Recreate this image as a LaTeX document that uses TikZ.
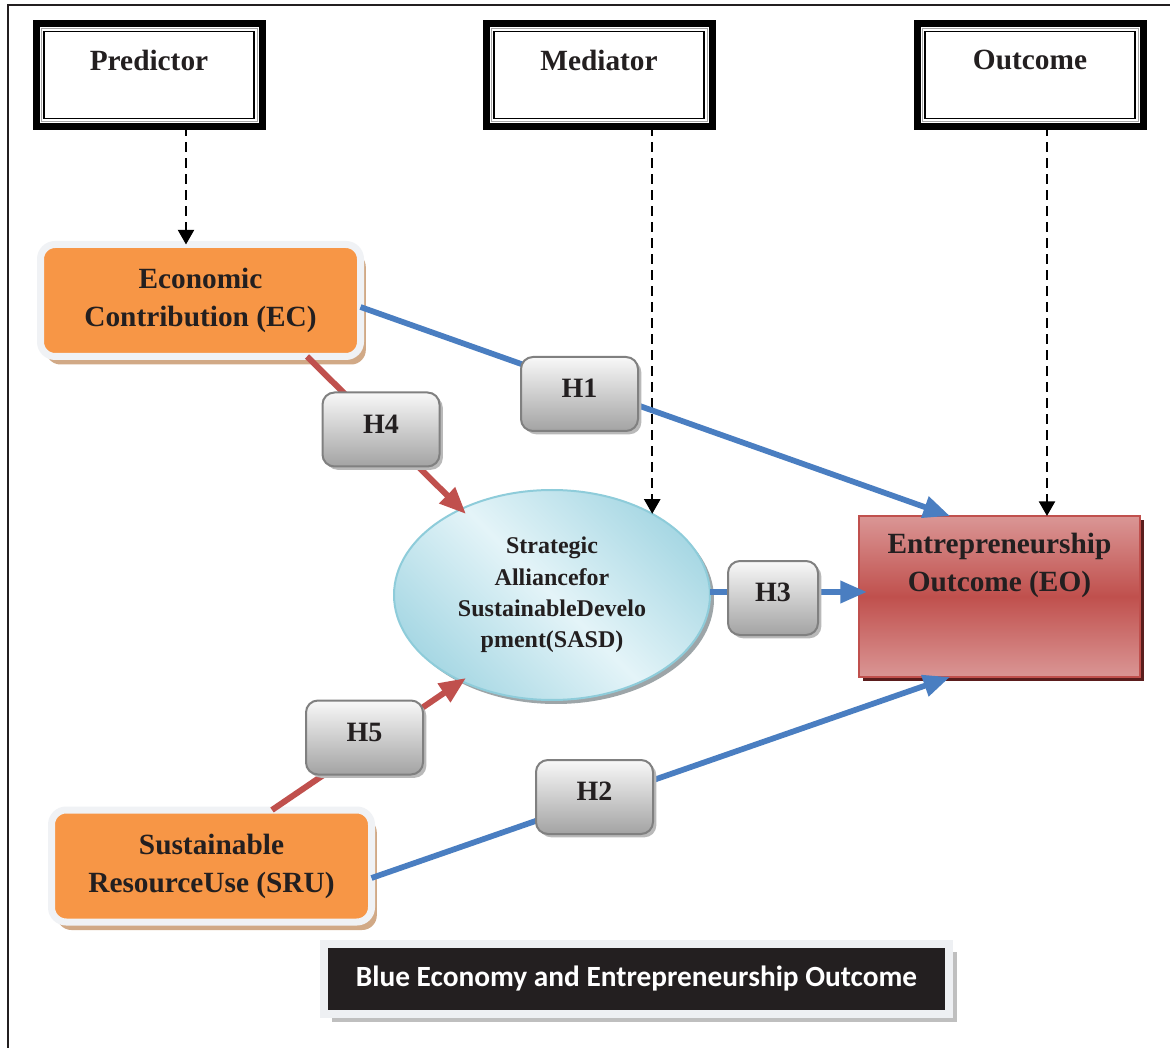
\documentclass[tikz,border=0pt]{standalone}
\usepackage{fontspec}
\setmainfont{Liberation Serif}
\newfontfamily\calibfont{Carlito}
\usetikzlibrary{arrows.meta,shapes.geometric,shadows,calc}
\definecolor{txtC}{HTML}{231F20}
\definecolor{orangeA}{HTML}{F79646}
\definecolor{frameG}{HTML}{F0F2F5}
\definecolor{tanS}{HTML}{D1A986}
\definecolor{blueL}{HTML}{4A7EC1}
\definecolor{redL}{HTML}{C0504D}
\definecolor{eoL}{HTML}{DA9695}
\definecolor{eoD}{HTML}{C0504D}
\definecolor{eoS}{HTML}{5B1D1D}
\definecolor{hTop}{HTML}{F8F8F8}
\definecolor{hBot}{HTML}{A3A3A3}
\definecolor{hLine}{HTML}{808080}
\definecolor{elA}{HTML}{A8D8E4}
\definecolor{elB}{HTML}{E4F4F8}
\definecolor{elLine}{HTML}{8ECCDA}
\definecolor{elS}{HTML}{9DA5A8}
\definecolor{titleF}{HTML}{EEF0F3}
\definecolor{titleS}{HTML}{BFBFBF}
\begin{document}
\begin{tikzpicture}[x=0.75pt,y=-0.75pt,
  every node/.style={outer sep=0pt},
  hdr/.style={draw=black, line width=5.25pt, fill=white, minimum width=169.5pt, minimum height=77.25pt, inner sep=0pt},
  hdrinA/.style={draw=gray!70, line width=0.75pt},
  hdrinB/.style={draw=black, line width=1.1pt},
  hdrtxt/.style={font=\fontsize{22}{26}\selectfont\bfseries, text=txtC},
  maintxt/.style={font=\fontsize{22}{28.5}\selectfont\bfseries, text=txtC, align=center},
  srcbox/.style={maintxt, rounded corners=11pt, fill=orangeA, draw=frameG, line width=5.25pt,
     minimum width=240pt, minimum height=84pt,
     drop shadow={shadow xshift=4pt, shadow yshift=-6pt, fill=tanS, opacity=1}},
  medell/.style={ellipse, draw=elLine, line width=1.5pt, minimum width=237pt, minimum height=157.5pt, inner sep=0pt,
     left color=elA, right color=elA, middle color=elB, shading angle=135,
     font=\fontsize{18}{23.6}\selectfont\bfseries, text=txtC, align=center,
     drop shadow={shadow xshift=3pt, shadow yshift=-3pt, fill=elS, opacity=1}},
  outbox/.style={draw=redL, line width=1.5pt, minimum width=210.75pt, minimum height=120.75pt,
     top color=eoL, bottom color=eoL, middle color=eoD,
     drop shadow={shadow xshift=3pt, shadow yshift=-3pt, fill=eoS, opacity=1}},
  hbox/.style={rounded corners=9pt, draw=hLine, line width=1.5pt, top color=hTop, bottom color=hBot,
     minimum width=87.75pt, minimum height=55.5pt, text depth=8pt,
     font=\fontsize{21}{25}\selectfont\bfseries, text=txtC,
     drop shadow={shadow xshift=2.5pt, shadow yshift=-2.5pt, fill=gray!55, opacity=1}},
  titlebox/.style={fill=txtC, draw=titleF, line width=6pt, minimum width=468.75pt, minimum height=52.5pt,
     text=white, font=\calibfont\fontsize{22}{26}\selectfont\bfseries,
     drop shadow={shadow xshift=6pt, shadow yshift=-6pt, fill=titleS, opacity=1}},
  bluearrow/.style={draw=blueL, line width=4.3pt, -{Triangle[length=20pt,width=16pt]}},
  redarrow/.style={draw=redL, line width=4.5pt, -{Triangle[length=20pt,width=16pt]}},
  dasharrow/.style={draw=black, line width=1.8pt, dash pattern=on 7.5pt off 4.5pt, -{Triangle[length=11pt,width=12pt]}}
]
\useasboundingbox (0,0) rectangle (1175,1048);
\fill[white] (0,0) rectangle (1175,1048);
\draw[line width=1.5pt, color=txtC] (8,1048) -- (8,5) -- (1170,5);

% header boxes
\node[hdr] (pred) at (149,75) {};
\draw[hdrinA] ([shift={(5,5)}]pred.north west) rectangle ([shift={(-5,-5)}]pred.south east);
\draw[hdrinB] ([shift={(8,8)}]pred.north west) rectangle ([shift={(-8,-8)}]pred.south east);
\node[hdrtxt] (predT) at (149,60) {Predictor};

\node[hdr] (med) at (599,75) {};
\draw[hdrinA] ([shift={(5,5)}]med.north west) rectangle ([shift={(-5,-5)}]med.south east);
\draw[hdrinB] ([shift={(8,8)}]med.north west) rectangle ([shift={(-8,-8)}]med.south east);
\node[hdrtxt] (medT) at (599,60) {Mediator};

\node[hdr] (outc) at (1030,75) {};
\draw[hdrinA] ([shift={(5,5)}]outc.north west) rectangle ([shift={(-5,-5)}]outc.south east);
\draw[hdrinB] ([shift={(8,8)}]outc.north west) rectangle ([shift={(-8,-8)}]outc.south east);
\node[hdrtxt] (outcT) at (1030,60) {Outcome};

% main nodes
\node[srcbox] (ec) at (200.5,300.5) {Economic\\Contribution (EC)};
\node[srcbox] (sru) at (211.5,866) {Sustainable\\ResourceUse (SRU)};
\node[medell] (sasd) at (552,595) {Strategic\\Alliancefor\\SustainableDevelo\\pment(SASD)};
\node[outbox] (eo) at (999.5,596.5) {};
\node[maintxt] (eoT) at (999.5,565) {Entrepreneurship\\Outcome (EO)};

% dashed arrows
\coordinate (dA) at (186,0);
\coordinate (dC) at (1047,0);
\draw[dasharrow] (pred.south -| dA) -- (ec.north -| dA);
\draw[dasharrow] (med.south -| sasd.39.1) -- (sasd.39.1);
\draw[dasharrow] (outc.south -| dC) -- (eo.north -| dC);

% paths
\draw[bluearrow] ($(ec.east)+(0,6.5)$) -- ($(eo.north west)+(91,0)$);
\draw[bluearrow] ($(sru.east)+(0,12)$) -- ($(eo.south west)+(91,0)$);
\draw[bluearrow] ($(sasd.east)+(0,-3)$) -- ($(eo.west)+(8,-4.5)$);
\draw[redarrow] ($(ec.south)+(106.5,0)$) -- ($(sasd.center)+(-86,-81)$);
\draw[redarrow] ($(sru.north)+(60.5,0)$) -- ($(sasd.center)+(-86,83)$);

% hypothesis labels
\node[hbox] (h1) at (579.5,394) {H1};
\node[hbox] (h4) at (381,429.5) {H4};
\node[hbox, minimum width=67.5pt] (h3) at (773,598) {H3};
\node[hbox] (h5) at (364.5,737.5) {H5};
\node[hbox] (h2) at (594.5,797) {H2};

% title
\node[titlebox] (title) at (636.5,979) {Blue Economy and Entrepreneurship Outcome};
\end{tikzpicture}
\end{document}
